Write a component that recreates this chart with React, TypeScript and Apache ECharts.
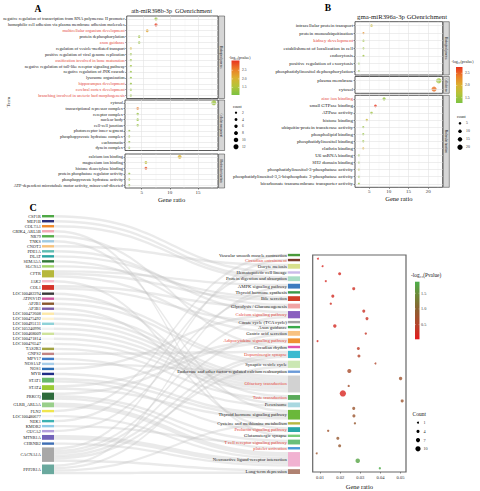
import React, { useEffect, useRef } from 'react';
import * as echarts from 'echarts';

// ---------------- Panel A data ----------------
const A_BP_TERMS = [
  'negative regulation of transcription from RNA polymerase II promoter',
  'homophilic cell adhesion via plasma membrane adhesion molecules',
  'multicellular organism development',
  'protein dephosphorylation',
  'axon guidance',
  'regulation of vesicle-mediated transport',
  'positive regulation of viral genome replication',
  'ossification involved in bone maturation',
  'negative regulation of toll-like receptor signaling pathway',
  'negative regulation of JNK cascade',
  'lysosome organization',
  'hippocampus development',
  'cerebral cortex development',
  'branching involved in ureteric bud morphogenesis',
];
const A_BP_RATIO = [7.35, 7.35, 5.76, 4.3, 4.3, 2.8, 2.8, 2.8, 2.8, 2.8, 2.8, 2.8, 2.8, 2.8];
const A_BP_COUNT = [5, 5, 4, 3, 3, 2, 2, 2, 2, 2, 2, 2, 2, 2];
const A_BP_P = [1.3, 3.0, 2.2, 1.35, 1.3, 1.95, 1.3, 1.3, 1.35, 1.3, 1.25, 1.3, 1.3, 1.3];

const A_CC_TERMS = [
  'cytosol', 'transcriptional repressor complex', 'receptor complex', 'nuclear body', 'cell-cell junction',
  'photoreceptor inner segment', 'phosphopyruvate hydratase complex', 'euchromatin', 'dynein complex',
];
const A_CC_RATIO = [17.8, 4.3, 4.3, 4.3, 4.3, 2.8, 2.8, 2.8, 2.8];
const A_CC_COUNT = [12, 3, 3, 3, 3, 2, 2, 2, 2];
const A_CC_P = [1.35, 2.6, 1.3, 1.3, 1.3, 1.25, 1.3, 1.3, 1.25];

const A_MF_TERMS = [
  'calcium ion binding', 'magnesium ion binding', 'histone deacetylase binding',
  'protein phosphatase regulator activity', 'phosphopyruvate hydratase activity',
  'ATP-dependent microtubule motor activity, minus-end-directed',
];
const A_MF_RATIO = [11.75, 5.76, 5.76, 2.8, 2.8, 2.8];
const A_MF_COUNT = [8, 4, 4, 2, 2, 2];
const A_MF_P = [2.05, 1.7, 2.9, 1.3, 1.5, 1.3];

const A_HIGHLIGHT = [
  'multicellular organism development', 'axon guidance', 'ossification involved in bone maturation',
  'hippocampus development', 'cerebral cortex development', 'branching involved in ureteric bud morphogenesis',
];
const A_MAJOR = [5, 10, 15];
const A_MINOR = [2.5, 7.5, 12.5, 17.5];
const A_P_RANGE = [1.06, 3.07];
const A_P_TICKS = [1.5, 2.0, 2.5];
const A_COUNT_KEYS = [2, 4, 6, 8, 10, 12];

// ---------------- Panel B data ----------------
const B_BP_TERMS = [
  'intracellular protein transport', 'protein monoubiquitination', 'kidney development',
  'establishment of localization in cell', 'endocytosis', 'positive regulation of exocytosis',
  'phosphatidylinositol dephosphorylation',
];
const B_BP_RATIO = [5.6, 3.55, 3.55, 3.55, 3.55, 2.4, 2.4];
const B_BP_COUNT = [5, 3, 3, 3, 3, 2, 2];
const B_BP_P = [1.85, 2.25, 1.5, 1.5, 1.5, 1.45, 1.4];

const B_CC_TERMS = ['plasma membrane', 'cytosol'];
const B_CC_RATIO = [22.7, 21.5];
const B_CC_COUNT = [20, 19];
const B_CC_P = [1.5, 2.45];

const B_MF_TERMS = [
  'zinc ion binding', 'small GTPase binding', 'ATPase activity', 'histone binding',
  'ubiquitin-protein transferase activity', 'phospholipid binding', 'phosphatidylinositol binding',
  'clathrin binding', 'U6 snRNA binding', 'SH2 domain binding', 'phosphatidylinositol-3-phosphatase activity',
  'phosphatidylinositol-3,5-bisphosphate 3-phosphatase activity', 'bicarbonate transmembrane transporter activity',
];
const B_MF_RATIO = [8.8, 6.6, 5.6, 4.4, 3.5, 3.5, 3.5, 3.5, 2.4, 2.4, 2.4, 2.4, 2.4];
const B_MF_COUNT = [8, 6, 5, 4, 3, 3, 3, 3, 2, 2, 2, 2, 2];
const B_MF_P = [1.45, 2.75, 1.5, 1.85, 1.45, 1.45, 1.45, 2.05, 1.4, 1.4, 1.7, 1.45, 1.5];

const B_HIGHLIGHT = ['kidney development', 'zinc ion binding'];
const B_MAJOR = [5, 10, 15, 20];
const B_MINOR = [2.5, 7.5, 12.5, 17.5, 22.5];
const B_P_RANGE = [1.28, 2.76];
const B_P_TICKS = [1.5, 2.0, 2.5];
const B_COUNT_KEYS = [5, 10, 15, 20];

// ---------------- Panel C data ----------------
const GENES = [
  'CSF1R', 'MEP1B', 'COL7A1', 'GRIK4_ARL5B', 'NR79', 'TNKS', 'CNOT3', 'PDE1A', 'DLAT', 'SEMA5A', 'SLC9A3',
  'CFTR', 'JAK2', 'COL1', 'LOC100482294', 'ATP6V1D', 'AP2B1', 'AP3B1', 'LOC100472608', 'LOC100475492',
  'LOC100495131', 'LOC105240996', 'LOC100468009', 'LOC100471814', 'LOC100476547', 'TAS2R3', 'GNPS2',
  'MPV17', 'NOS1AP', 'NOS1', 'MYB', 'STAT1', 'STAT4', 'PRKCQ', 'GLRB_ARL5A', 'FLN2', 'LOC100480677',
  'NEK1', 'KMOR2', 'GUCA2', 'MTNR1A', 'CHRNB2', 'CACNA1A', 'PPP2R1A',
];
const GENE_COLORS = [
  '#4fa846', '#2d2f7a', '#f08a2c', '#f3a7b4', '#57ae4b', '#9ecae1', '#f6c27d', '#5cbcb1', '#2aa5a3', '#2f7a3a', '#a3d46e',
  '#b6b83c', '#f5bccb', '#d5332a', '#3b3b3b', '#cf58a0', '#8a5a2d', '#7b5ea7', '#fde8a8', '#fdf2d2',
  '#8fd2d8', '#f1f1f1', '#cfe39b', '#f6f6f6', '#f9f9f9', '#a3a444', '#c28484',
  '#3e7bc8', '#a7cde8', '#2b6cb4', '#1f2d86', '#67b96b', '#9bcb35', '#2c6a3b', '#99cf8b', '#f0e64e', '#f4f4f4',
  '#3bb2b2', '#8ecae6', '#b29ddb', '#7363b9', '#3f6fb5', '#a8a8a8', '#6aa99e',
];
const PATHWAYS = [
  'Vascular smooth muscle contraction', 'Circadian entrainment', 'Oocyte meiosis', 'Hematopoietic cell lineage',
  'Protein digestion and absorption', 'AMPK signaling pathway', 'Thyroid hormone synthesis', 'Bile secretion',
  'Glycolysis / Gluconeogenesis', 'Calcium signaling pathway', 'Citrate cycle (TCA cycle)', 'Axon guidance',
  'Gastric acid secretion', 'Adipocytokine signaling pathway', 'Circadian rhythm', 'Dopaminergic synapse',
  'Synaptic vesicle cycle', 'Endocrine and other factor-regulated calcium reabsorption', 'Olfactory transduction',
  'Taste transduction', 'Peroxisome', 'Thyroid hormone signaling pathway', 'Cysteine and methionine metabolism',
  'Prolactin signaling pathway', 'Glutamatergic synapse', 'T cell receptor signaling pathway', 'platelet activation',
  'Neuroactive ligand-receptor interaction', 'Long-term depression',
];
const PATH_COLORS = [
  '#4a9a3a', '#7b3b2b', '#d8e08c', '#cbbbe9', '#a9ddc6', '#3b7bbf', '#3a9a4a', '#d1402a',
  '#f1a3a3', '#8a5fbf', '#a3a3a3', '#3aaa4a', '#f8c282', '#f09032', '#e052b0', '#3cbad0',
  '#cbe7b3', '#6a9ad8', '#d2d2d2', '#5aaa5a', '#a9d8e0', '#6ab83a', '#b8b842',
  '#2aa8a8', '#7acc7a', '#6abf7a', '#4a9ad8', '#f1b2d1', '#b08272',
];
const PATH_RATIO = [
  0.0089, 0.0112, 0.0197, 0.0128, 0.0267, 0.0163, 0.0153, 0.0317, 0.0333, 0.0173, 0.0327, 0.0087, 0.029, 0.0293,
  0.0375, 0.0245, 0.05, 0.0242, 0.0213, 0.0508, 0.0267, 0.0268, 0.0273, 0.014, 0.0188, 0.0197, 0.0083, 0.0287, 0.0397,
];
const PATH_COUNT = [1, 1, 4, 1, 4, 4, 2, 4, 4, 5, 2, 1, 4, 4, 1, 7, 5, 2, 13, 4, 4, 4, 2, 2, 4, 4, 1, 8, 2];
const PATH_P = [
  0.12, 0.15, 0.2, 0.18, 0.25, 0.22, 0.25, 0.28, 0.3, 0.2, 0.32, 0.2, 0.4, 0.5, 0.55, 0.65, 0.75, 0.7, 0.15,
  0.8, 0.8, 0.8, 0.85, 0.75, 0.85, 0.85, 0.8, 1.75, 1.85,
];
const C_HIGHLIGHT = [
  'Circadian entrainment', 'Calcium signaling pathway', 'Adipocytokine signaling pathway', 'Dopaminergic synapse',
  'Olfactory transduction', 'Taste transduction', 'Prolactin signaling pathway', 'T cell receptor signaling pathway',
  'platelet activation',
];
const LINKS: [string, string, number][] = [
  ['CSF1R', 'Hematopoietic cell lineage', 1],
  ['MEP1B', 'Protein digestion and absorption', 1],
  ['COL7A1', 'Protein digestion and absorption', 1],
  ['GRIK4_ARL5B', 'Glutamatergic synapse', 1],
  ['NR79', 'Circadian rhythm', 1],
  ['TNKS', 'Thyroid hormone signaling pathway', 1],
  ['CNOT3', 'Oocyte meiosis', 1],
  ['PDE1A', 'Calcium signaling pathway', 1],
  ['DLAT', 'Glycolysis / Gluconeogenesis', 1],
  ['SEMA5A', 'Axon guidance', 1],
  ['SLC9A3', 'Bile secretion', 1],
  ['CFTR', 'AMPK signaling pathway', 1],
  ['CFTR', 'Bile secretion', 1],
  ['CFTR', 'Gastric acid secretion', 1],
  ['JAK2', 'Prolactin signaling pathway', 1],
  ['COL1', 'Glycolysis / Gluconeogenesis', 1],
  ['COL1', 'Citrate cycle (TCA cycle)', 1],
  ['LOC100482294', 'Taste transduction', 1],
  ['ATP6V1D', 'Synaptic vesicle cycle', 1],
  ['AP2B1', 'Synaptic vesicle cycle', 1],
  ['AP3B1', 'Peroxisome', 1],
  ['LOC100472608', 'Olfactory transduction', 1],
  ['LOC100475492', 'Olfactory transduction', 1],
  ['LOC100495131', 'Olfactory transduction', 1],
  ['LOC105240996', 'Olfactory transduction', 1],
  ['LOC100468009', 'Olfactory transduction', 1],
  ['LOC100471814', 'Olfactory transduction', 1],
  ['LOC100476547', 'Olfactory transduction', 1],
  ['TAS2R3', 'Taste transduction', 1],
  ['GNPS2', 'Dopaminergic synapse', 1],
  ['MPV17', 'Peroxisome', 1],
  ['NOS1AP', 'Endocrine and other factor-regulated calcium reabsorption', 1],
  ['NOS1', 'Calcium signaling pathway', 1],
  ['MYB', 'Thyroid hormone signaling pathway', 1],
  ['STAT1', 'Thyroid hormone signaling pathway', 1],
  ['STAT1', 'Prolactin signaling pathway', 1],
  ['STAT4', 'Adipocytokine signaling pathway', 1],
  ['STAT4', 'Thyroid hormone signaling pathway', 1],
  ['PRKCQ', 'T cell receptor signaling pathway', 1],
  ['PRKCQ', 'Adipocytokine signaling pathway', 1],
  ['PRKCQ', 'platelet activation', 1],
  ['GLRB_ARL5A', 'Neuroactive ligand-receptor interaction', 2],
  ['FLN2', 'Vascular smooth muscle contraction', 1],
  ['LOC100480677', 'Neuroactive ligand-receptor interaction', 1],
  ['NEK1', 'Oocyte meiosis', 1],
  ['KMOR2', 'T cell receptor signaling pathway', 1],
  ['GUCA2', 'Thyroid hormone synthesis', 1],
  ['MTNR1A', 'Neuroactive ligand-receptor interaction', 2],
  ['CHRNB2', 'Neuroactive ligand-receptor interaction', 1],
  ['CACNA1A', 'Calcium signaling pathway', 1],
  ['CACNA1A', 'Dopaminergic synapse', 1],
  ['CACNA1A', 'Circadian entrainment', 1],
  ['CACNA1A', 'Synaptic vesicle cycle', 1],
  ['CACNA1A', 'Long-term depression', 1],
  ['CACNA1A', 'Gastric acid secretion', 1],
  ['PPP2R1A', 'Dopaminergic synapse', 1],
  ['PPP2R1A', 'AMPK signaling pathway', 1],
  ['PPP2R1A', 'Long-term depression', 1],
  ['PPP2R1A', 'Cysteine and methionine metabolism', 1],
];
const C_TICKS = [0.01, 0.02, 0.03, 0.04, 0.05];
const C_P_RANGE = [0.03, 1.87];
const C_P_TICKS = [0.5, 1.0, 1.5];
const C_COUNT_KEYS = [1, 4, 7, 10];

// ---------------- styling ----------------
const FONT = 'Liberation Serif';
const RED = '#e4473a';
const GRAD_AB = ['#7cc242', '#b3c43a', '#dcb030', '#ec7d27', '#e8321e'];
const GRAD_C = ['#e41a1c', '#b5432b', '#8e5d2f', '#6f8536', '#4daf4a'];
const SPACER = 15; // invisible layout spacer so the right sankey column sits at the bottom
const sizeA = (c: number) => 1.7 + 0.28 * c;
const sizeB = (c: number) => 1.7 + 0.18 * c;
const sizeC = (c: number) => 1.6 + 0.36 * c;

function txt(x: number, y: number, text: string, fontSize: number, o: any = {}) {
  return {
    type: 'text', x, y, silent: true, rotation: o.rotation || 0,
    style: {
      text, fontSize, fontFamily: FONT, fill: o.fill || '#1a1a1a',
      textAlign: o.align || 'left', textVerticalAlign: o.valign || 'middle',
      fontWeight: o.weight || 'normal', width: o.width, overflow: o.width ? 'truncate' : undefined, ellipsis: '',
    },
  };
}

function colorbar(els: any[], x: number, y: number, w: number, h: number, range: number[], colors: string[],
  ticks: number[], fontSize: number, labelX: number) {
  const stops = colors.map((c, i) => ({ offset: i / (colors.length - 1), color: c }));
  els.push({ type: 'rect', silent: true, shape: { x, y, width: w, height: h },
    style: { fill: new echarts.graphic.LinearGradient(0, 1, 0, 0, stops) } });
  ticks.forEach((t) => {
    const ty = y + h - ((t - range[0]) / (range[1] - range[0])) * h;
    els.push({ type: 'line', silent: true, shape: { x1: x, y1: ty, x2: x + w * 0.2, y2: ty }, style: { stroke: '#fff', lineWidth: 0.4 } });
    els.push({ type: 'line', silent: true, shape: { x1: x + w * 0.8, y1: ty, x2: x + w, y2: ty }, style: { stroke: '#fff', lineWidth: 0.4 } });
    els.push(txt(labelX, ty, t.toFixed(1), fontSize, { fill: '#333' }));
  });
}

function sizeLegend(els: any[], title: string, tx: number, ty: number, tSize: number, keys: number[], sizeFn: (c: number) => number,
  x: number, y0: number, step: number, labelX: number, fontSize: number) {
  els.push(txt(tx, ty, title, tSize));
  keys.forEach((k, i) => {
    els.push({ type: 'circle', silent: true, shape: { cx: x, cy: y0 + i * step, r: sizeFn(k) / 2 }, style: { fill: '#000' } });
    els.push(txt(labelX, y0 + i * step, String(k), fontSize, { fill: '#333' }));
  });
}

function buildOption() {
  const grid: any[] = [];
  const xAxis: any[] = [];
  const yAxis: any[] = [];
  const series: any[] = [];
  const visualMap: any[] = [];
  const els: any[] = [];

  const panels = [
    {
      left: 125, width: 93, min: 2.05, max: 18.55, major: A_MAJOR, minor: A_MINOR, hl: A_HIGHLIGHT, size: sizeA,
      range: A_P_RANGE, labelFont: 4.3, xFont: 5, nameGap: 8, stripFont: 3,
      facets: [
        { terms: A_BP_TERMS, ratio: A_BP_RATIO, count: A_BP_COUNT, p: A_BP_P, top: 16, height: 82.5, strip: 'Biological process' },
        { terms: A_CC_TERMS, ratio: A_CC_RATIO, count: A_CC_COUNT, p: A_CC_P, top: 100, height: 50.5, strip: 'Cellular component' },
        { terms: A_MF_TERMS, ratio: A_MF_RATIO, count: A_MF_COUNT, p: A_MF_P, top: 154, height: 34, strip: 'Molecular function' },
      ],
    },
    {
      left: 355, width: 87.7, min: 1.4, max: 23.7, major: B_MAJOR, minor: B_MINOR, hl: B_HIGHLIGHT, size: sizeB,
      range: B_P_RANGE, labelFont: 4.9, xFont: 5, nameGap: 8, stripFont: 3,
      facets: [
        { terms: B_BP_TERMS, ratio: B_BP_RATIO, count: B_BP_COUNT, p: B_BP_P, top: 21.7, height: 53.3, strip: 'Biological process' },
        { terms: B_CC_TERMS, ratio: B_CC_RATIO, count: B_CC_COUNT, p: B_CC_P, top: 76.5, height: 16.8, strip: 'Cellular component' },
        { terms: B_MF_TERMS, ratio: B_MF_RATIO, count: B_MF_COUNT, p: B_MF_P, top: 95.3, height: 92, strip: 'Molecular function' },
      ],
    },
  ];

  const majorStyle = { color: '#e2e2e2', width: 0.6, type: 'solid' };
  const minorStyle = { color: '#f0f0f0', width: 0.4, type: 'solid' };

  panels.forEach((pn) => {
    const scatterIdx: number[] = [];
    pn.facets.forEach((f, fi) => {
      const gi = grid.length;
      const last = fi === pn.facets.length - 1;
      grid.push({ left: pn.left, top: f.top, width: pn.width, height: f.height, show: true, borderColor: '#474747', borderWidth: 0.9, backgroundColor: '#fff' });
      xAxis.push({
        gridIndex: gi, type: 'value', min: pn.min, max: pn.max, show: last,
        axisLine: { show: false },
        axisTick: { show: true, length: 1.5, lineStyle: { color: '#333', width: 0.6 }, customValues: pn.major },
        axisLabel: { customValues: pn.major, fontSize: pn.xFont, fontFamily: FONT, color: '#333', margin: 2 },
        splitLine: { show: false },
        name: last ? 'Gene ratio' : '', nameLocation: 'middle', nameGap: pn.nameGap,
        nameTextStyle: { fontSize: 6.5, fontFamily: FONT, color: '#111' },
      });
      yAxis.push({
        gridIndex: gi, type: 'category', inverse: true,
        data: f.terms.map((t) => (pn.hl.includes(t) ? { value: t, textStyle: { color: RED } } : t)),
        axisLine: { show: false },
        axisTick: { show: true, alignWithLabel: true, length: 1.5, lineStyle: { color: '#333', width: 0.5 } },
        axisLabel: { interval: 0, fontSize: pn.labelFont, fontFamily: FONT, color: '#1a1a1a', margin: 2 },
        splitLine: { show: false },
      });
      series.push({
        type: 'scatter', xAxisIndex: gi, yAxisIndex: gi, data: [], silent: true, z: 1,
        markLine: {
          silent: true, symbol: ['none', 'none'], label: { show: false }, animation: false,
          data: [
            ...pn.minor.map((v) => ({ xAxis: v, lineStyle: minorStyle })),
            ...pn.major.map((v) => ({ xAxis: v, lineStyle: majorStyle })),
            ...f.terms.map((t) => ({ yAxis: t, lineStyle: majorStyle })),
          ],
        },
      });
      scatterIdx.push(series.length);
      series.push({
        type: 'scatter', xAxisIndex: gi, yAxisIndex: gi, z: 3, silent: true,
        data: f.terms.map((t, i) => [f.ratio[i], t, f.p[i], f.count[i]]),
        encode: { x: 0, y: 1 },
        symbolSize: (v: any) => pn.size(v[3]),
      });
      // facet strip
      const sx = pn.left + pn.width + 0.6;
      els.push({ type: 'rect', silent: true, shape: { x: sx, y: f.top, width: 6, height: f.height },
        style: { fill: '#d6d6d6', stroke: '#333', lineWidth: 0.5 } });
      els.push(txt(sx + 3, f.top + f.height / 2, f.strip, pn.stripFont,
        { rotation: -Math.PI / 2, align: 'center', width: f.height - 1 }));
    });
    visualMap.push({ type: 'continuous', show: false, seriesIndex: scatterIdx, dimension: 2,
      min: pn.range[0], max: pn.range[1], inRange: { color: GRAD_AB } });
  });

  // ---------- Panel C: sankey ----------
  const nodes: any[] = [
    ...GENES.map((g, i) => ({ name: g, itemStyle: { color: GENE_COLORS[i] } })),
    { name: '__spacerL', itemStyle: { opacity: 0 }, label: { show: false } },
    { name: '__spacerR', itemStyle: { opacity: 0 }, label: { show: false } },
    ...PATHWAYS.map((p, i) => ({
      name: p, itemStyle: { color: PATH_COLORS[i] },
      label: { color: C_HIGHLIGHT.includes(p) ? RED : '#1a1a1a', fontSize: 4.7 },
    })),
  ];
  const links: any[] = [
    ...LINKS.map(([s, t, v]) => ({ source: s, target: t, value: v })),
    { source: '__spacerL', target: '__spacerR', value: SPACER, lineStyle: { opacity: 0 } },
  ];
  series.push({
    type: 'sankey', left: 42, top: 215, width: 258, height: 298, nodeWidth: 12, nodeGap: 2.6,
    layoutIterations: 0, draggable: false, silent: true, z: 1,
    emphasis: { disabled: true },
    data: nodes, links,
    label: { position: 'left', distance: 1.2, fontSize: 4.3, fontFamily: FONT, color: '#1a1a1a' },
    itemStyle: { borderWidth: 0 },
    lineStyle: { color: '#c6c6c6', opacity: 0.36, curveness: 0.5 },
  });

  // ---------- Panel C: bubble plot ----------
  const cg = grid.length;
  grid.push({ left: 312.7, top: 255, width: 93.3, height: 219, show: true, borderColor: '#666', borderWidth: 1.2, backgroundColor: '#fff' });
  xAxis.push({
    gridIndex: cg, type: 'value', min: 0.0063, max: 0.0527,
    axisLine: { show: false },
    axisTick: { show: true, length: 1.5, lineStyle: { color: '#444', width: 0.6 }, customValues: C_TICKS },
    axisLabel: { customValues: C_TICKS, fontSize: 4.6, fontFamily: FONT, color: '#333', margin: 3,
      formatter: (v: number) => v.toFixed(2) },
    splitLine: { show: false },
    name: 'Gene ratio', nameLocation: 'middle', nameGap: 11,
    nameTextStyle: { fontSize: 6.5, fontFamily: FONT, color: '#111' },
  });
  yAxis.push({
    gridIndex: cg, type: 'category', inverse: true, data: PATHWAYS,
    axisLine: { show: false }, axisTick: { show: false }, axisLabel: { show: false }, splitLine: { show: false },
  });
  const cIdx = series.length;
  series.push({
    type: 'scatter', xAxisIndex: cg, yAxisIndex: cg, z: 3, silent: true,
    data: PATHWAYS.map((p, i) => [PATH_RATIO[i], p, PATH_P[i], PATH_COUNT[i]]),
    encode: { x: 0, y: 1 },
    symbolSize: (v: any) => sizeC(v[3]),
  });
  visualMap.push({ type: 'continuous', show: false, seriesIndex: [cIdx], dimension: 2,
    min: C_P_RANGE[0], max: C_P_RANGE[1], inRange: { color: GRAD_C } });

  // ---------- texts & legends ----------
  els.push(txt(38, 8.5, 'A', 9.5, { weight: 'bold', align: 'center', fill: '#000' }));
  els.push(txt(171.5, 10.5, 'ath-miR398b-3p  GOenrichment', 6.2, { align: 'center' }));
  els.push(txt(8, 102, 'Term', 5, { rotation: Math.PI / 2, align: 'center' }));
  els.push(txt(328, 7.5, 'B', 9.5, { weight: 'bold', align: 'center', fill: '#000' }));
  els.push(txt(402, 16, 'gma-miR396a-3p GOenrichment', 6.8, { align: 'center' }));
  els.push(txt(33, 207, 'C', 10, { weight: 'bold', align: 'center', fill: '#000' }));

  // A legends
  els.push(txt(229, 57.5, '-log₁₀(pvalue)', 3.8));
  colorbar(els, 231.5, 60.5, 8, 34.5, A_P_RANGE, GRAD_AB, A_P_TICKS, 3.6, 242);
  sizeLegend(els, 'count', 233, 106.7, 3.8, A_COUNT_KEYS, sizeA, 236, 112.7, 6.8, 242, 3.6);
  // B legends
  els.push(txt(451.5, 61.7, '-log₁₀(pvalue)', 3.9));
  colorbar(els, 456, 67, 6.5, 36, B_P_RANGE, GRAD_AB, B_P_TICKS, 3.8, 465);
  sizeLegend(els, 'count', 457, 117.3, 3.9, B_COUNT_KEYS, sizeB, 460, 123.3, 8, 466, 3.8);
  // C legends
  els.push(txt(411, 275, '-log₁₀(Pvalue)', 5.3));
  colorbar(els, 415, 281.7, 4.5, 57.6, C_P_RANGE, GRAD_C, C_P_TICKS, 4.2, 421);
  sizeLegend(els, 'Count', 412.5, 414.3, 5.5, C_COUNT_KEYS, sizeC, 418, 422.7, 8.7, 423.5, 4.2);

  return {
    animation: false,
    backgroundColor: '#fff',
    textStyle: { fontFamily: FONT },
    grid, xAxis, yAxis, series, visualMap,
    graphic: { elements: els },
  };
}

export default function App() {
  const ref = useRef<HTMLDivElement>(null);
  useEffect(() => {
    if (!ref.current) return;
    const chart = echarts.init(ref.current, null, { renderer: 'svg' });
    chart.setOption(buildOption() as any);
    return () => chart.dispose();
  }, []);
  return (
    <div
      ref={ref}
      style={{ position: 'fixed', left: 0, top: 0, width: 480, height: 491, background: '#fff' }}
    />
  );
}
